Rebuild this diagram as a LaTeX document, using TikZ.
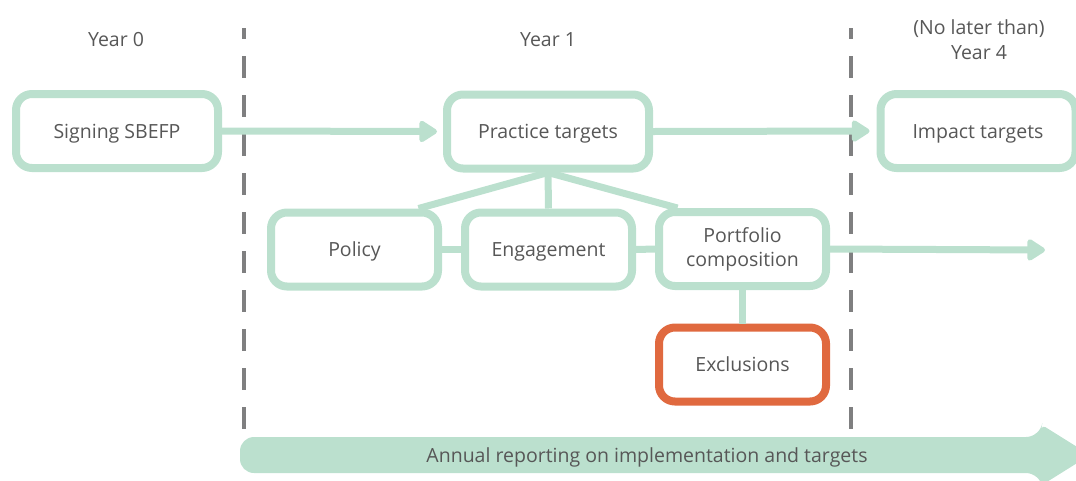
\documentclass[tikz,border=0pt]{standalone}
\usepackage{fontspec}
\setmainfont{Open Sans}
\usetikzlibrary{arrows.meta,positioning,calc}
\definecolor{mint}{HTML}{BBE0CE}
\definecolor{txt}{HTML}{575757}
\definecolor{divgray}{HTML}{7F7F80}
\definecolor{excl}{HTML}{E0693F}
\tikzset{
  lblfont/.style={font=\fontsize{19.5}{24}\selectfont},
  box/.style={draw=mint, line width=8pt, rounded corners=16pt, fill=white,
    text=txt, lblfont, align=center, text height=14pt, text depth=0pt,
    inner sep=0pt, minimum height=74pt},
  widebox/.style={box, minimum width=202pt},
  smallbox/.style={box, minimum width=167pt},
  twoline/.style={text height=, text depth=},
  redbox/.style={smallbox, draw=excl},
  conn/.style={draw=mint, line width=7pt},
  arr/.style={conn, -{Triangle[length=20pt,width=24pt,round]}},
  divider/.style={draw=divgray, line width=3.5pt, dash pattern=on 22pt off 17pt, dash phase=11pt},
  yearlbl/.style={text=txt, font=\fontsize{19.5}{25}\selectfont, align=center, inner sep=0pt, text height=14pt, text depth=0pt}
}
\begin{document}
\begin{tikzpicture}[x=1pt,y=-1pt]
\useasboundingbox (0,0) rectangle (1076,480);
% dividers
\draw[divider] (244,28) -- (244,432);
\draw[divider] (851,28) -- (851,432);
% labels
\node[yearlbl] (y0) at (116,39) {Year 0};
\node[yearlbl] (y1) at (548,39) {Year 1};
\node[yearlbl, twoline] (y4) at (979,39.5) {(No later than)\\Year 4};
% boxes
\node[widebox] (sign) at (117,131) {Signing SBEFP};
\node[widebox] (prac) at (548,131.5) {Practice targets};
\node[box, minimum width=195pt] (imp) at (978,131) {Impact targets};
\node[smallbox] (pol) at (354.5,249.5) {Policy};
\node[smallbox] (eng) at (548.5,249.5) {Engagement};
\node[smallbox, twoline] (port) at (742.5,249) {Portfolio\\composition};
\node[redbox] (exc) at (742.5,364.5) {Exclusions};
\coordinate (pend) at (1045,250);
% connectors
\draw[arr, shorten >=6pt] (sign.east) -- (prac.west);
\draw[arr, shorten >=7pt] (prac.east) -- (imp.west);
\draw[arr] (port.east) -- (pend);
\draw[conn] (prac.south) -- ([xshift=64pt]pol.north);
\draw[conn] (prac.south) -- (eng.north);
\draw[conn] (prac.south) -- ([xshift=-65pt]port.north);
\draw[conn] (pol.east) -- (eng.west);
\draw[conn] (eng.east) -- (port.west);
\draw[conn] (port.south) -- (exc.north);
% bottom reporting arrow
\fill[mint, rounded corners=14pt] (240,437) -- (1040,437) [rounded corners=4pt] -- (1042,425) -- (1090,455) -- (1042,485) [rounded corners=14pt] -- (1040,473) -- (240,473) -- cycle;
\node[text=txt, lblfont, inner sep=0pt, text height=14pt, text depth=0pt] (rep) at (647,455.5) {Annual reporting on implementation and targets};
\end{tikzpicture}
\end{document}
